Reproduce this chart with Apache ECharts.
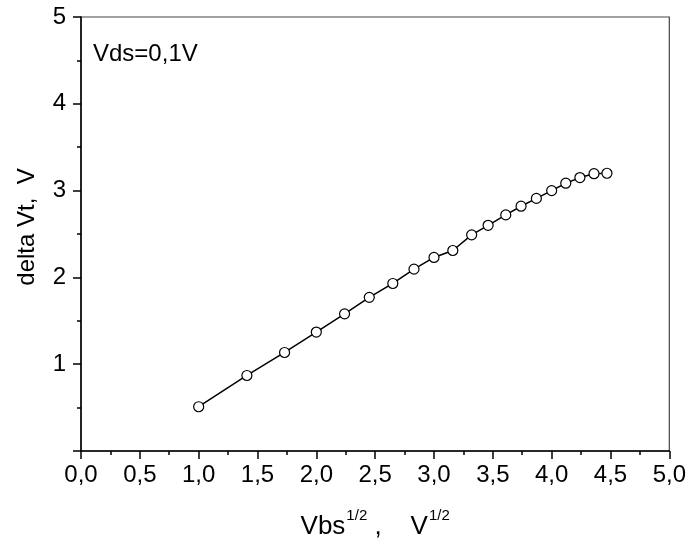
<!DOCTYPE html>
<html>
<head>
<meta charset="utf-8">
<script src="https://cdn.jsdelivr.net/npm/echarts@6/dist/echarts.min.js"></script>
<style>
html,body{margin:0;padding:0;background:#fff;}
#main{width:689px;height:545px;}
</style>
</head>
<body>
<div id="main"></div>
<script>
var xValues = [1.00, 1.41, 1.73, 2.00, 2.24, 2.45, 2.65, 2.83, 3.00, 3.16, 3.32, 3.46, 3.61, 3.74, 3.87, 4.00, 4.12, 4.24, 4.36, 4.47];
var yValues = [0.51, 0.87, 1.135, 1.37, 1.58, 1.77, 1.93, 2.095, 2.23, 2.31, 2.49, 2.60, 2.72, 2.82, 2.91, 3.00, 3.085, 3.15, 3.195, 3.20];
var annotation = 'Vds=0,1V';
var xTitleParts = ['Vbs', '1/2', ' ,    V', '1/2'];
var yTitle = 'delta Vt,  V';

var FONT = "'Liberation Sans', Arial, sans-serif";
var points = xValues.map(function (x, i) { return [x, yValues[i]]; });

var chart = echarts.init(document.getElementById('main'), null, {renderer: 'canvas'});
chart.setOption({
  animation: false,
  backgroundColor: '#fff',
  textStyle: {fontFamily: FONT},
  grid: {left: 81, right: 17, top: 17, bottom: 92, show: true, borderColor: '#444', borderWidth: 1.2, backgroundColor: 'transparent'},
  graphic: [{
    type: 'text', left: 93, top: 42,
    style: {text: annotation, font: '24px ' + FONT, fill: '#000'}
  }],
  xAxis: {
    type: 'value', min: 0, max: 5, interval: 0.5,
    axisLine: {onZero: false, lineStyle: {color: '#000', width: 1.5}},
    axisTick: {show: true, inside: false, length: 8, lineStyle: {color: '#000', width: 1.5}},
    minorTick: {show: true, splitNumber: 2, length: 4, lineStyle: {color: '#000', width: 1.5}},
    splitLine: {show: false},
    axisLabel: {
      color: '#000', fontSize: 24, fontFamily: FONT, margin: 12,
      formatter: function (v) { return v.toFixed(1).replace('.', ','); }
    },
    name: '{a|' + xTitleParts[0] + '}{s|' + xTitleParts[1] + '}{a|' + xTitleParts[2] + '}{s|' + xTitleParts[3] + '}',
    nameLocation: 'middle', nameGap: 57,
    nameTextStyle: {
      rich: {
        a: {fontSize: 26, fontFamily: FONT, color: '#000', lineHeight: 32, verticalAlign: 'bottom'},
        s: {fontSize: 15, fontFamily: FONT, color: '#000', lineHeight: 32, verticalAlign: 'top', padding: [0, 0, 0, 1]}
      }
    }
  },
  yAxis: {
    type: 'value', min: 0, max: 5, interval: 1,
    axisLine: {onZero: false, lineStyle: {color: '#000', width: 1.5}},
    axisTick: {show: true, inside: false, length: 8, lineStyle: {color: '#000', width: 1.5}},
    minorTick: {show: true, splitNumber: 2, length: 4, lineStyle: {color: '#000', width: 1.5}},
    splitLine: {show: false},
    axisLabel: {
      color: '#000', fontSize: 24, fontFamily: FONT, margin: 15,
      formatter: function (v) { return v === 0 ? '' : String(v); }
    },
    name: yTitle, nameLocation: 'middle', nameGap: 42,
    nameTextStyle: {color: '#000', fontSize: 24, fontFamily: FONT, padding: [0, 0, 0, 14]}
  },
  series: [{
    type: 'line',
    data: points,
    symbol: 'circle', symbolSize: 10,
    showAllSymbol: true,
    lineStyle: {color: '#000', width: 1.5},
    itemStyle: {color: '#fff', borderColor: '#000', borderWidth: 1.2}
  }]
});
</script>
</body>
</html>
